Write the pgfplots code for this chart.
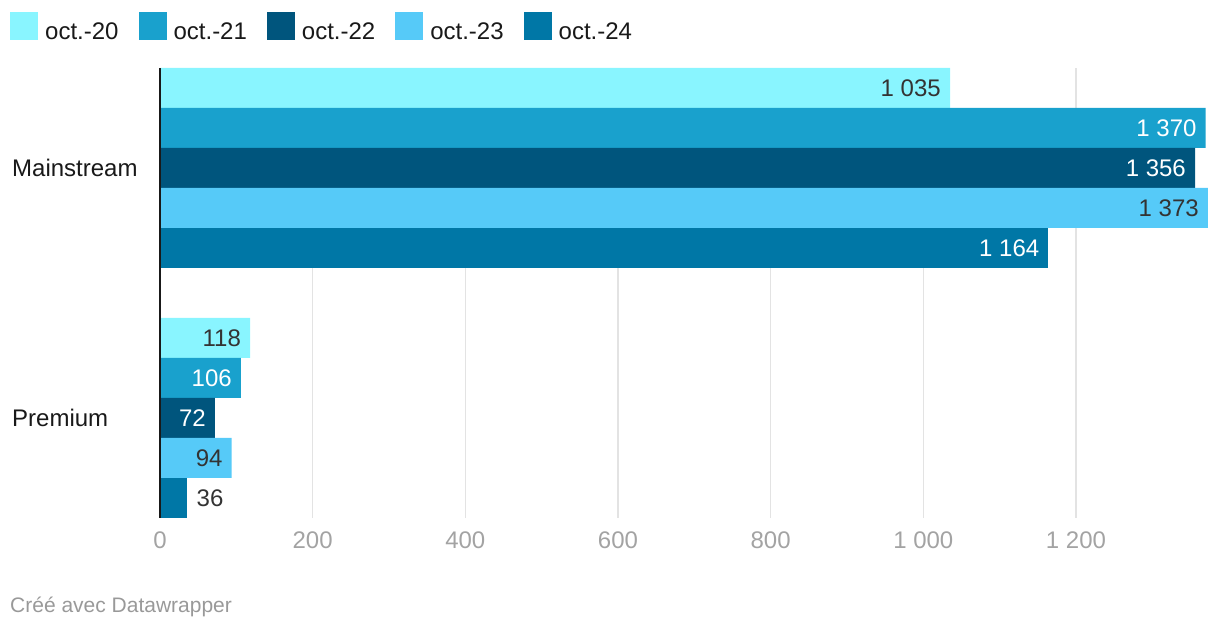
\documentclass[border=0pt]{standalone}
\usepackage{pgfplots}
\pgfplotsset{compat=1.18}
\usepackage{fontspec}
\setmainfont{Liberation Sans}
\definecolor{c20}{HTML}{89F5FF}
\definecolor{c21}{HTML}{19A1CD}
\definecolor{c22}{HTML}{00557D}
\definecolor{c23}{HTML}{56CAF8}
\definecolor{c24}{HTML}{0077A6}
\definecolor{lbl}{HTML}{333333}
\definecolor{tickgray}{HTML}{A3A3A3}
\definecolor{gridgray}{HTML}{E3E3E3}
\definecolor{foot}{HTML}{999999}
\pgfplotsset{sq/.style={legend image code/.code={\fill[##1,draw=none] (0bp,-8bp) rectangle (28bp,20bp);}}}
\begin{document}
\begin{tikzpicture}[font=\fontsize{24bp}{28bp}\selectfont]
\useasboundingbox (0,0) rectangle (1220bp,632bp);
\begin{axis}[
 at={(160bp,114bp)}, anchor=south west,
 scale only axis, width=1048bp, height=450bp,
 xbar, bar width=0.16,
 xmin=0, xmax=1373, ymin=-0.4, ymax=1.4,
 axis x line*=bottom, axis y line*=left,
 x axis line style={draw=none},
 y axis line style={draw=none},
 xtick={0,200,...,1200}, ytick={0,1}, yticklabels={Premium,Mainstream},
 major tick length=0,
 xmajorgrids, major grid style={gridgray, line width=1.5bp},
 xticklabel style={text=tickgray, yshift=-10bp},
 yticklabel style={anchor=west, inner sep=0, xshift=-148bp, text=black!90},
 /pgf/number format/1000 sep={\ },
 /pgf/number format/assume math mode=true,
 nodes near coords,
 every node near coord/.append style={anchor=east, inner sep=0, xshift=-9bp},
 legend columns=5,
 legend style={at={(0,1)}, anchor=north west, xshift=-150bp, yshift=56bp, draw=none, fill=none, inner sep=0,
   text=black!90,
   nodes={inner sep=0},
   /tikz/every odd column/.append style={column sep=7bp},
   /tikz/every even column/.append style={column sep=20bp}},
 clip=false,
]
\addplot[sq, fill=c20, draw=none, bar shift=0.32, every node near coord/.append style={text=lbl}] coordinates {(1035,1) (118,0)};
\addlegendentry{oct.-20}
\addplot[sq, fill=c21, draw=none, bar shift=0.16, every node near coord/.append style={text=white}] coordinates {(1370,1) (106,0)};
\addlegendentry{oct.-21}
\addplot[sq, fill=c22, draw=none, bar shift=0, every node near coord/.append style={text=white}] coordinates {(1356,1) (72,0)};
\addlegendentry{oct.-22}
\addplot[sq, fill=c23, draw=none, bar shift=-0.16, every node near coord/.append style={text=lbl}] coordinates {(1373,1) (94,0)};
\addlegendentry{oct.-23}
\addplot[sq, fill=c24, draw=none, bar shift=-0.32, every node near coord/.append style={text=white}] coordinates {(1164,1)};
\addlegendentry{oct.-24}
\addplot[forget plot, fill=c24, draw=none, bar shift=-0.32, every node near coord/.append style={text=lbl, anchor=west, xshift=18bp}] coordinates {(36,0)};
\draw[black!90, line width=2.5bp] (axis cs:0,-0.4) -- (axis cs:0,1.4);
\end{axis}
\node[anchor=west, text=foot, font=\fontsize{21bp}{24bp}\selectfont, inner sep=0] at (10bp,25bp) {Créé avec Datawrapper};
\end{tikzpicture}
\end{document}
